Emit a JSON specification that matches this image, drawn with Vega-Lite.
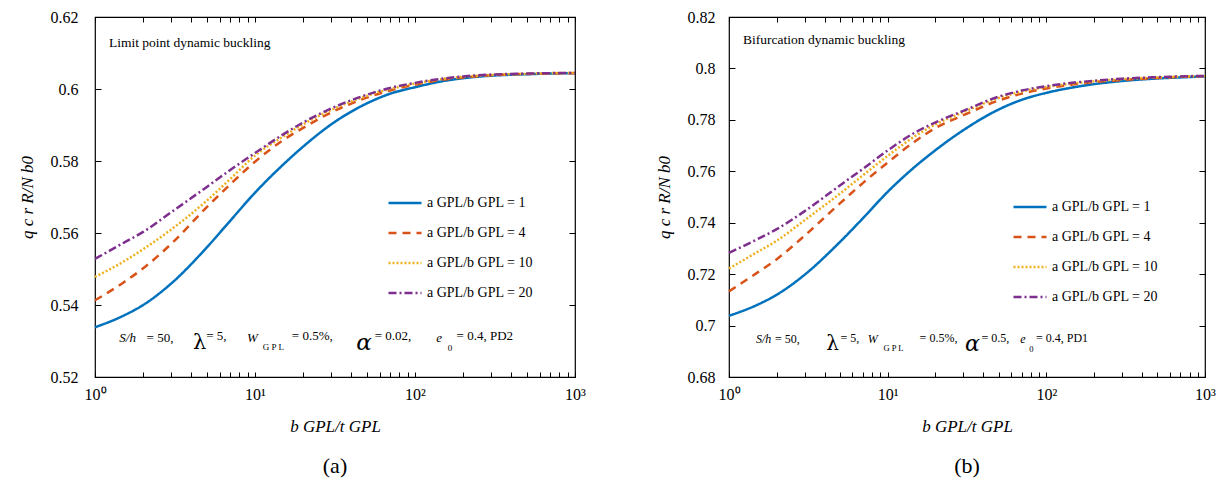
{
  "$schema": "https://vega.github.io/schema/vega-lite/v6.json",
  "padding": {"left": 17, "top": 8, "right": 10, "bottom": 5},
  "spacing": 154,
  "bounds": "flush",
  "background": "white",
  "config": {
    "font": "Liberation Serif",
    "view": {"stroke": "black", "strokeWidth": 1.2},
    "text": {"font": "Liberation Serif", "fontSize": 13, "align": "left", "baseline": "alphabetic", "color": "black"},
    "axis": {"grid": false, "domain": false, "tickColor": "black", "labelColor": "black", "titleColor": "black",
      "labelFont": "Liberation Serif", "titleFont": "Liberation Serif", "labelFontSize": 16, "titleFontSize": 17,
      "titleFontWeight": "normal", "labelFlush": false, "labelOverlap": false, "tickWidth": 1}
  },
  "datasets": {
    "a": [
      {"x":1,"r":1,"q":0.5338},{"x":1.5,"r":1,"q":0.537},{"x":2,"r":1,"q":0.54},{"x":3,"r":1,"q":0.546},{"x":5,"r":1,"q":0.556},{"x":7,"r":1,"q":0.5634},{"x":10,"r":1,"q":0.5712},{"x":15,"r":1,"q":0.579},{"x":20,"r":1,"q":0.584},{"x":30,"r":1,"q":0.5902},{"x":50,"r":1,"q":0.596},{"x":70,"r":1,"q":0.5987},{"x":100,"r":1,"q":0.6005},{"x":150,"r":1,"q":0.6022},{"x":200,"r":1,"q":0.603},{"x":300,"r":1,"q":0.6037},{"x":500,"r":1,"q":0.6041},{"x":700,"r":1,"q":0.6043},{"x":1000,"r":1,"q":0.6044},
      {"x":1,"r":4,"q":0.5413},{"x":1.5,"r":4,"q":0.5462},{"x":2,"r":4,"q":0.5502},{"x":3,"r":4,"q":0.557},{"x":5,"r":4,"q":0.5672},{"x":7,"r":4,"q":0.5735},{"x":10,"r":4,"q":0.5798},{"x":15,"r":4,"q":0.5858},{"x":20,"r":4,"q":0.5892},{"x":30,"r":4,"q":0.5935},{"x":50,"r":4,"q":0.5976},{"x":70,"r":4,"q":0.5996},{"x":100,"r":4,"q":0.6012},{"x":150,"r":4,"q":0.6026},{"x":200,"r":4,"q":0.6032},{"x":300,"r":4,"q":0.6038},{"x":500,"r":4,"q":0.6042},{"x":700,"r":4,"q":0.6043},{"x":1000,"r":4,"q":0.6044},
      {"x":1,"r":10,"q":0.5478},{"x":1.5,"r":10,"q":0.552},{"x":2,"r":10,"q":0.5555},{"x":3,"r":10,"q":0.561},{"x":5,"r":10,"q":0.569},{"x":7,"r":10,"q":0.575},{"x":10,"r":10,"q":0.5815},{"x":15,"r":10,"q":0.5868},{"x":20,"r":10,"q":0.5902},{"x":30,"r":10,"q":0.5942},{"x":50,"r":10,"q":0.5981},{"x":70,"r":10,"q":0.6},{"x":100,"r":10,"q":0.6015},{"x":150,"r":10,"q":0.6028},{"x":200,"r":10,"q":0.6034},{"x":300,"r":10,"q":0.6039},{"x":500,"r":10,"q":0.6042},{"x":700,"r":10,"q":0.6044},{"x":1000,"r":10,"q":0.6045},
      {"x":1,"r":20,"q":0.5528},{"x":1.5,"r":20,"q":0.5572},{"x":2,"r":20,"q":0.5603},{"x":3,"r":20,"q":0.5658},{"x":5,"r":20,"q":0.5728},{"x":7,"r":20,"q":0.5775},{"x":10,"r":20,"q":0.5822},{"x":15,"r":20,"q":0.5874},{"x":20,"r":20,"q":0.5907},{"x":30,"r":20,"q":0.5946},{"x":50,"r":20,"q":0.5984},{"x":70,"r":20,"q":0.6003},{"x":100,"r":20,"q":0.6017},{"x":150,"r":20,"q":0.6029},{"x":200,"r":20,"q":0.6035},{"x":300,"r":20,"q":0.604},{"x":500,"r":20,"q":0.6043},{"x":700,"r":20,"q":0.6044},{"x":1000,"r":20,"q":0.6045}
    ],
    "b": [
      {"x":1,"r":1,"q":0.7038},{"x":1.5,"r":1,"q":0.708},{"x":2,"r":1,"q":0.712},{"x":3,"r":1,"q":0.7198},{"x":5,"r":1,"q":0.7325},{"x":7,"r":1,"q":0.7418},{"x":10,"r":1,"q":0.752},{"x":15,"r":1,"q":0.762},{"x":20,"r":1,"q":0.7682},{"x":30,"r":1,"q":0.776},{"x":50,"r":1,"q":0.784},{"x":70,"r":1,"q":0.7878},{"x":100,"r":1,"q":0.7905},{"x":150,"r":1,"q":0.7927},{"x":200,"r":1,"q":0.7939},{"x":300,"r":1,"q":0.7951},{"x":500,"r":1,"q":0.7961},{"x":700,"r":1,"q":0.7965},{"x":1000,"r":1,"q":0.7969},
      {"x":1,"r":4,"q":0.7133},{"x":1.5,"r":4,"q":0.7205},{"x":2,"r":4,"q":0.7258},{"x":3,"r":4,"q":0.735},{"x":5,"r":4,"q":0.7475},{"x":7,"r":4,"q":0.7555},{"x":10,"r":4,"q":0.7634},{"x":15,"r":4,"q":0.7718},{"x":20,"r":4,"q":0.7768},{"x":30,"r":4,"q":0.7818},{"x":50,"r":4,"q":0.7875},{"x":70,"r":4,"q":0.7902},{"x":100,"r":4,"q":0.7922},{"x":150,"r":4,"q":0.7938},{"x":200,"r":4,"q":0.7947},{"x":300,"r":4,"q":0.7955},{"x":500,"r":4,"q":0.7963},{"x":700,"r":4,"q":0.7967},{"x":1000,"r":4,"q":0.797},
      {"x":1,"r":10,"q":0.7222},{"x":1.5,"r":10,"q":0.7285},{"x":2,"r":10,"q":0.733},{"x":3,"r":10,"q":0.741},{"x":5,"r":10,"q":0.7513},{"x":7,"r":10,"q":0.7585},{"x":10,"r":10,"q":0.766},{"x":15,"r":10,"q":0.7738},{"x":20,"r":10,"q":0.7782},{"x":30,"r":10,"q":0.783},{"x":50,"r":10,"q":0.7885},{"x":70,"r":10,"q":0.791},{"x":100,"r":10,"q":0.7928},{"x":150,"r":10,"q":0.7942},{"x":200,"r":10,"q":0.795},{"x":300,"r":10,"q":0.7958},{"x":500,"r":10,"q":0.7965},{"x":700,"r":10,"q":0.7968},{"x":1000,"r":10,"q":0.7971},
      {"x":1,"r":20,"q":0.7283},{"x":1.5,"r":20,"q":0.7335},{"x":2,"r":20,"q":0.7375},{"x":3,"r":20,"q":0.7445},{"x":5,"r":20,"q":0.7545},{"x":7,"r":20,"q":0.761},{"x":10,"r":20,"q":0.7681},{"x":15,"r":20,"q":0.7752},{"x":20,"r":20,"q":0.779},{"x":30,"r":20,"q":0.7835},{"x":50,"r":20,"q":0.789},{"x":70,"r":20,"q":0.7914},{"x":100,"r":20,"q":0.7931},{"x":150,"r":20,"q":0.7945},{"x":200,"r":20,"q":0.7952},{"x":300,"r":20,"q":0.796},{"x":500,"r":20,"q":0.7966},{"x":700,"r":20,"q":0.7969},{"x":1000,"r":20,"q":0.7971}
    ]
  },
  "resolve": {"scale": {"color": "independent", "strokeDash": "independent"}},
  "hconcat": [
    {
      "width": 480, "height": 360,
      "title": {"text": "(a)", "orient": "bottom", "fontSize": 22, "fontWeight": "normal", "font": "Liberation Serif", "offset": 22, "anchor": "middle", "color": "black"},
      "resolve": {"axis": {"x": "independent", "y": "independent"}},
      "layer": [
        {
          "data": {"name": "a"},
          "mark": {"type": "line", "strokeWidth": 2.5, "interpolate": "monotone"},
          "encoding": {
            "x": {"field": "x", "type": "quantitative", "scale": {"type": "log", "domain": [1, 1000], "nice": false},
              "axis": {"orient": "bottom", "values": [1,10,100,1000], "ticks": false, "labelFont": "Liberation Serif",
                "labelExpr": "datum.value == 1 ? '10⁰' : datum.value == 10 ? '10¹' : datum.value == 100 ? '10²' : '10³'",
                "labelPadding": 9, "title": "b GPL/t GPL", "titleFont": "Liberation Serif", "titlePadding": 16, "titleFontStyle": "italic"}},
            "y": {"field": "q", "type": "quantitative", "scale": {"domain": [0.52, 0.62], "nice": false, "zero": false},
              "axis": {"orient": "left", "values": [0.52,0.54,0.56,0.58,0.6,0.62], "format": ".2~f", "ticks": false, "labelPadding": 17, "labelFont": "Liberation Serif",
                "title": "q c r R/N b0", "titleFont": "Liberation Serif", "titlePadding": 14, "titleFontStyle": "italic"}},
            "color": {"field": "r", "type": "ordinal", "scale": {"domain": [1,4,10,20], "range": ["#0072BD","#D95319","#EDB120","#7E2F8E"]},
              "legend": {"orient": "none", "legendX": 292, "legendY": 168, "title": null, "symbolType": "stroke", "symbolSize": 1089, "symbolStrokeWidth": 2.5,
                "labelFont": "Liberation Serif", "labelFontSize": 14, "labelColor": "black", "labelExpr": "'a GPL/b GPL = ' + datum.label", "rowPadding": 5}},
            "strokeDash": {"field": "r", "type": "ordinal", "scale": {"domain": [1,4,10,20], "range": [[1,0],[8,6],[2,2],[8,3,2,3]]},
              "legend": {"orient": "none", "legendX": 292, "legendY": 168, "title": null, "symbolType": "stroke", "symbolSize": 1089, "symbolStrokeWidth": 2.5,
                "labelFont": "Liberation Serif", "labelFontSize": 14, "labelColor": "black", "labelExpr": "'a GPL/b GPL = ' + datum.label", "rowPadding": 5}}
          }
        },
        {
          "data": {"name": "a"},
          "mark": {"type": "point", "opacity": 0},
          "encoding": {
            "x": {"field": "x", "type": "quantitative", "axis": {"orient": "top", "offset": -360, "values": [1,2,3,4,5,6,7,8,9,10,20,30,40,50,60,70,80,90,100,200,300,400,500,600,700,800,900,1000], "labels": false, "title": null, "tickSize": 5}},
            "y": {"field": "q", "type": "quantitative", "axis": {"orient": "right", "offset": -480, "values": [0.52,0.54,0.56,0.58,0.6,0.62], "labels": false, "title": null, "tickSize": 6}}
          }
        },
        {
          "data": {"name": "a"},
          "mark": {"type": "point", "opacity": 0},
          "encoding": {
            "x": {"field": "x", "type": "quantitative", "axis": {"orient": "bottom", "offset": -360, "values": [1,2,3,4,5,6,7,8,9,10,20,30,40,50,60,70,80,90,100,200,300,400,500,600,700,800,900,1000], "labels": false, "title": null, "tickSize": 5}},
            "y": {"field": "q", "type": "quantitative", "axis": {"orient": "left", "offset": -480, "values": [0.52,0.54,0.56,0.58,0.6,0.62], "labels": false, "title": null, "tickSize": 6}}
          }
        },
        {"data": {"values": [{}]}, "mark": {"type": "text", "fontSize": 13.5},
          "encoding": {"x": {"datum": 1.223, "type": "quantitative", "axis": null}, "y": {"datum": 0.6117, "type": "quantitative", "axis": null}, "text": {"value": "Limit point dynamic buckling"}}},
        {"data": {"values": [{}]}, "mark": {"type": "text", "fontStyle": "italic"},
          "encoding": {"x": {"datum": 1.42, "type": "quantitative", "axis": null}, "y": {"datum": 0.5297, "type": "quantitative", "axis": null}, "text": {"value": "S/h"}}},
        {"data": {"values": [{}]}, "mark": {"type": "text"},
          "encoding": {"x": {"datum": 2.1, "type": "quantitative", "axis": null}, "y": {"datum": 0.5297, "type": "quantitative", "axis": null}, "text": {"value": "= 50,"}}},
        {"data": {"values": [{}]}, "mark": {"type": "text", "fontSize": 21, "font": "DejaVu Serif"},
          "encoding": {"x": {"datum": 4.1, "type": "quantitative", "axis": null}, "y": {"datum": 0.5278, "type": "quantitative", "axis": null}, "text": {"value": "λ"}}},
        {"data": {"values": [{}]}, "mark": {"type": "text"},
          "encoding": {"x": {"datum": 4.95, "type": "quantitative", "axis": null}, "y": {"datum": 0.5302, "type": "quantitative", "axis": null}, "text": {"value": "= 5,"}}},
        {"data": {"values": [{}]}, "mark": {"type": "text", "fontStyle": "italic"},
          "encoding": {"x": {"datum": 8.9, "type": "quantitative", "axis": null}, "y": {"datum": 0.5297, "type": "quantitative", "axis": null}, "text": {"value": "W"}}},
        {"data": {"values": [{}]}, "mark": {"type": "text", "fontSize": 9},
          "encoding": {"x": {"datum": 11.2, "type": "quantitative", "axis": null}, "y": {"datum": 0.5275, "type": "quantitative", "axis": null}, "text": {"value": "G P L"}}},
        {"data": {"values": [{}]}, "mark": {"type": "text"},
          "encoding": {"x": {"datum": 17.0, "type": "quantitative", "axis": null}, "y": {"datum": 0.5302, "type": "quantitative", "axis": null}, "text": {"value": "= 0.5%,"}}},
        {"data": {"values": [{}]}, "mark": {"type": "text", "fontSize": 23, "font": "DejaVu Serif", "fontStyle": "italic"},
          "encoding": {"x": {"datum": 43.0, "type": "quantitative", "axis": null}, "y": {"datum": 0.5276, "type": "quantitative", "axis": null}, "text": {"value": "α"}}},
        {"data": {"values": [{}]}, "mark": {"type": "text"},
          "encoding": {"x": {"datum": 56.0, "type": "quantitative", "axis": null}, "y": {"datum": 0.5302, "type": "quantitative", "axis": null}, "text": {"value": "= 0.02,"}}},
        {"data": {"values": [{}]}, "mark": {"type": "text", "fontStyle": "italic"},
          "encoding": {"x": {"datum": 136.0, "type": "quantitative", "axis": null}, "y": {"datum": 0.5297, "type": "quantitative", "axis": null}, "text": {"value": "e"}}},
        {"data": {"values": [{}]}, "mark": {"type": "text", "fontSize": 9},
          "encoding": {"x": {"datum": 160.0, "type": "quantitative", "axis": null}, "y": {"datum": 0.5272, "type": "quantitative", "axis": null}, "text": {"value": "0"}}},
        {"data": {"values": [{}]}, "mark": {"type": "text"},
          "encoding": {"x": {"datum": 182.0, "type": "quantitative", "axis": null}, "y": {"datum": 0.5302, "type": "quantitative", "axis": null}, "text": {"value": "= 0.4, PD2"}}}
      ]
    },
    {
      "width": 476, "height": 360,
      "title": {"text": "(b)", "orient": "bottom", "fontSize": 22, "fontWeight": "normal", "font": "Liberation Serif", "offset": 22, "anchor": "middle", "color": "black"},
      "resolve": {"axis": {"x": "independent", "y": "independent"}},
      "layer": [
        {
          "data": {"name": "b"},
          "mark": {"type": "line", "strokeWidth": 2.5, "interpolate": "monotone"},
          "encoding": {
            "x": {"field": "x", "type": "quantitative", "scale": {"type": "log", "domain": [1, 1000], "nice": false},
              "axis": {"orient": "bottom", "values": [1,10,100,1000], "ticks": false, "labelFont": "Liberation Serif",
                "labelExpr": "datum.value == 1 ? '10⁰' : datum.value == 10 ? '10¹' : datum.value == 100 ? '10²' : '10³'",
                "labelPadding": 9, "title": "b GPL/t GPL", "titleFont": "Liberation Serif", "titlePadding": 16, "titleFontStyle": "italic"}},
            "y": {"field": "q", "type": "quantitative", "scale": {"domain": [0.68, 0.82], "nice": false, "zero": false},
              "axis": {"orient": "left", "values": [0.68,0.7,0.72,0.74,0.76,0.78,0.8,0.82], "format": ".2~f", "ticks": false, "labelPadding": 14, "labelFont": "Liberation Serif",
                "title": "q c r R/N b0", "titleFont": "Liberation Serif", "titlePadding": 14, "titleFontStyle": "italic"}},
            "color": {"field": "r", "type": "ordinal", "scale": {"domain": [1,4,10,20], "range": ["#0072BD","#D95319","#EDB120","#7E2F8E"]},
              "legend": {"orient": "none", "legendX": 283, "legendY": 172, "title": null, "symbolType": "stroke", "symbolSize": 1089, "symbolStrokeWidth": 2.5,
                "labelFont": "Liberation Serif", "labelFontSize": 14, "labelColor": "black", "labelExpr": "'a GPL/b GPL = ' + datum.label", "rowPadding": 5}},
            "strokeDash": {"field": "r", "type": "ordinal", "scale": {"domain": [1,4,10,20], "range": [[1,0],[8,6],[2,2],[8,3,2,3]]},
              "legend": {"orient": "none", "legendX": 283, "legendY": 172, "title": null, "symbolType": "stroke", "symbolSize": 1089, "symbolStrokeWidth": 2.5,
                "labelFont": "Liberation Serif", "labelFontSize": 14, "labelColor": "black", "labelExpr": "'a GPL/b GPL = ' + datum.label", "rowPadding": 5}}
          }
        },
        {
          "data": {"name": "b"},
          "mark": {"type": "point", "opacity": 0},
          "encoding": {
            "x": {"field": "x", "type": "quantitative", "axis": {"orient": "top", "offset": -360, "values": [1,2,3,4,5,6,7,8,9,10,20,30,40,50,60,70,80,90,100,200,300,400,500,600,700,800,900,1000], "labels": false, "title": null, "tickSize": 5}},
            "y": {"field": "q", "type": "quantitative", "axis": {"orient": "right", "offset": -476, "values": [0.68,0.7,0.72,0.74,0.76,0.78,0.8,0.82], "labels": false, "title": null, "tickSize": 6}}
          }
        },
        {
          "data": {"name": "b"},
          "mark": {"type": "point", "opacity": 0},
          "encoding": {
            "x": {"field": "x", "type": "quantitative", "axis": {"orient": "bottom", "offset": -360, "values": [1,2,3,4,5,6,7,8,9,10,20,30,40,50,60,70,80,90,100,200,300,400,500,600,700,800,900,1000], "labels": false, "title": null, "tickSize": 5}},
            "y": {"field": "q", "type": "quantitative", "axis": {"orient": "left", "offset": -476, "values": [0.68,0.7,0.72,0.74,0.76,0.78,0.8,0.82], "labels": false, "title": null, "tickSize": 6}}
          }
        },
        {"data": {"values": [{}]}, "mark": {"type": "text", "fontSize": 13.5},
          "encoding": {"x": {"datum": 1.226, "type": "quantitative", "axis": null}, "y": {"datum": 0.8095, "type": "quantitative", "axis": null}, "text": {"value": "Bifurcation dynamic buckling"}}},
        {"data": {"values": [{}]}, "mark": {"type": "text", "fontStyle": "italic", "fontSize": 12},
          "encoding": {"x": {"datum": 1.48, "type": "quantitative", "axis": null}, "y": {"datum": 0.6933, "type": "quantitative", "axis": null}, "text": {"value": "S/h"}}},
        {"data": {"values": [{}]}, "mark": {"type": "text", "fontSize": 12},
          "encoding": {"x": {"datum": 1.95, "type": "quantitative", "axis": null}, "y": {"datum": 0.6933, "type": "quantitative", "axis": null}, "text": {"value": "= 50,"}}},
        {"data": {"values": [{}]}, "mark": {"type": "text", "fontSize": 20, "font": "DejaVu Serif"},
          "encoding": {"x": {"datum": 4.1, "type": "quantitative", "axis": null}, "y": {"datum": 0.6905, "type": "quantitative", "axis": null}, "text": {"value": "λ"}}},
        {"data": {"values": [{}]}, "mark": {"type": "text", "fontSize": 12},
          "encoding": {"x": {"datum": 5.05, "type": "quantitative", "axis": null}, "y": {"datum": 0.6938, "type": "quantitative", "axis": null}, "text": {"value": "= 5,"}}},
        {"data": {"values": [{}]}, "mark": {"type": "text", "fontStyle": "italic", "fontSize": 12},
          "encoding": {"x": {"datum": 7.5, "type": "quantitative", "axis": null}, "y": {"datum": 0.6933, "type": "quantitative", "axis": null}, "text": {"value": "W"}}},
        {"data": {"values": [{}]}, "mark": {"type": "text", "fontSize": 8.5},
          "encoding": {"x": {"datum": 9.4, "type": "quantitative", "axis": null}, "y": {"datum": 0.6901, "type": "quantitative", "axis": null}, "text": {"value": "G P L"}}},
        {"data": {"values": [{}]}, "mark": {"type": "text", "fontSize": 12},
          "encoding": {"x": {"datum": 15.9, "type": "quantitative", "axis": null}, "y": {"datum": 0.6938, "type": "quantitative", "axis": null}, "text": {"value": "= 0.5%,"}}},
        {"data": {"values": [{}]}, "mark": {"type": "text", "fontSize": 22, "font": "DejaVu Serif", "fontStyle": "italic"},
          "encoding": {"x": {"datum": 30.7, "type": "quantitative", "axis": null}, "y": {"datum": 0.6903, "type": "quantitative", "axis": null}, "text": {"value": "α"}}},
        {"data": {"values": [{}]}, "mark": {"type": "text", "fontSize": 12},
          "encoding": {"x": {"datum": 39.0, "type": "quantitative", "axis": null}, "y": {"datum": 0.6938, "type": "quantitative", "axis": null}, "text": {"value": "= 0.5,"}}},
        {"data": {"values": [{}]}, "mark": {"type": "text", "fontStyle": "italic", "fontSize": 12},
          "encoding": {"x": {"datum": 68.4, "type": "quantitative", "axis": null}, "y": {"datum": 0.6933, "type": "quantitative", "axis": null}, "text": {"value": "e"}}},
        {"data": {"values": [{}]}, "mark": {"type": "text", "fontSize": 8.5},
          "encoding": {"x": {"datum": 78.0, "type": "quantitative", "axis": null}, "y": {"datum": 0.6898, "type": "quantitative", "axis": null}, "text": {"value": "0"}}},
        {"data": {"values": [{}]}, "mark": {"type": "text", "fontSize": 12},
          "encoding": {"x": {"datum": 86.0, "type": "quantitative", "axis": null}, "y": {"datum": 0.6938, "type": "quantitative", "axis": null}, "text": {"value": "= 0.4, PD1"}}}
      ]
    }
  ]
}
